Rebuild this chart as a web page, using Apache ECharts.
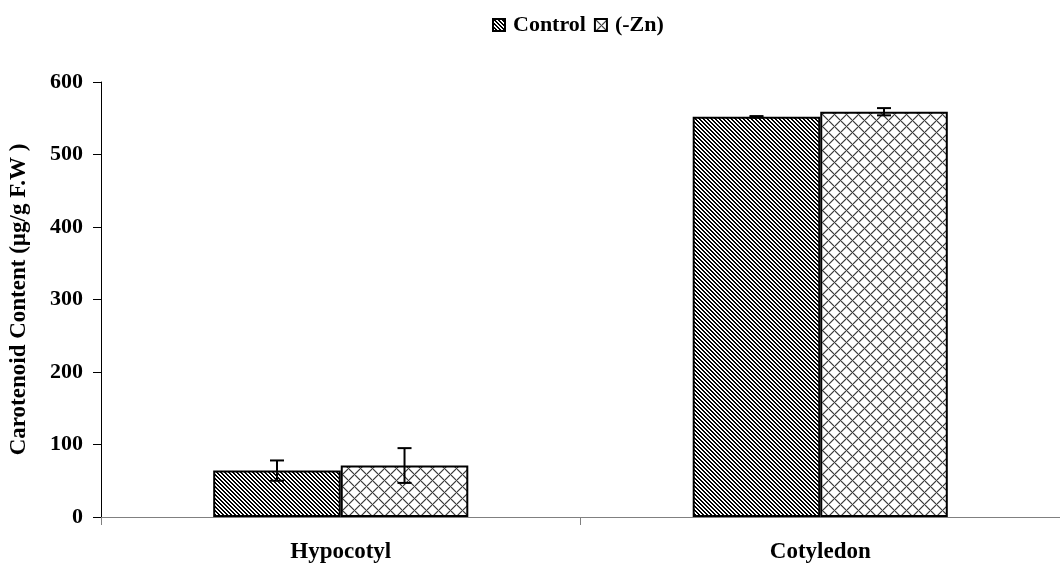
<!DOCTYPE html>
<html><head><meta charset="utf-8">
<script src="https://cdn.jsdelivr.net/npm/echarts@6/dist/echarts.min.js"></script>
<style>html,body{margin:0;padding:0;background:#fff}#c{width:1060px;height:568px}</style>
</head><body><div id="c"></div>
<script>
const categories = ['Hypocotyl', 'Cotyledon'];
const seriesNames = ['Control', '(-Zn)'];
const controlValues = [64, 552];
const controlErrors = [14, 1];
const znValues = [71, 559];
const znErrors = [24, 5];
const yTicks = [0, 100, 200, 300, 400, 500, 600];

function stripePattern() {
  const n = 4, c = document.createElement('canvas');
  c.width = n; c.height = n;
  const ctx = c.getContext('2d');
  const img = ctx.createImageData(n, n);
  for (let y = 0; y < n; y++) for (let x = 0; x < n; x++) {
    const k = ((x - y) % n + n) % n;
    const v = k < 2 ? 0 : 255;
    const i = (y * n + x) * 4;
    img.data[i] = img.data[i+1] = img.data[i+2] = v; img.data[i+3] = 255;
  }
  ctx.putImageData(img, 0, 0);
  return c;
}
function crossPattern() {
  const n = 12, c = document.createElement('canvas');
  c.width = n; c.height = n;
  const ctx = c.getContext('2d');
  const img = ctx.createImageData(n, n);
  for (let y = 0; y < n; y++) for (let x = 0; x < n; x++) {
    const a = ((x - y) % n + n) % n, b = (x + y) % n;
    let v = 255;
    if (a === 0 || b === 0) v = 60;
    else if (a === 1 || b === 1 || a === n-1 || b === n-1) v = 190;
    const i = (y * n + x) * 4;
    img.data[i] = img.data[i+1] = img.data[i+2] = v; img.data[i+3] = 255;
  }
  ctx.putImageData(img, 0, 0);
  return c;
}

const BW = 0.266;
const font = '"Liberation Serif", "Times New Roman", serif';
const chart = echarts.init(document.getElementById('c'));

function errSeries(vals, errs, side) {
  return {
    type: 'custom', silent: true, z: 10,
    data: categories.map((c, i) => [i, vals[i] - errs[i], vals[i] + errs[i]]),
    renderItem: function (params, api) {
      const catW = api.size([1, 0])[0];
      const cx = api.coord([api.value(0), 0])[0] + side * catW * BW / 2;
      const lo = api.coord([api.value(0), api.value(1)])[1];
      const hi = api.coord([api.value(0), api.value(2)])[1];
      const h = 7;
      const st = { stroke: '#000', lineWidth: 2 };
      return { type: 'group', children: [
        { type: 'line', shape: { x1: cx, y1: lo, x2: cx, y2: hi }, style: st },
        { type: 'line', shape: { x1: cx - h, y1: lo, x2: cx + h, y2: lo }, style: st },
        { type: 'line', shape: { x1: cx - h, y1: hi, x2: cx + h, y2: hi }, style: st }
      ]};
    }
  };
}

chart.setOption({
  animation: false,
  legend: {
    top: 9, left: 487, itemWidth: 12, itemHeight: 12, itemGap: 8,
    data: seriesNames.map(n => ({ name: n, icon: 'rect' })),
    textStyle: { fontFamily: font, fontWeight: 'bold', fontSize: 22, color: '#000', padding: [0,0,0,3] }
  },
  grid: { left: 99, right: -1, top: 82, bottom: 51, containLabel: false },
  xAxis: {
    type: 'category', data: categories,
    axisLine: { lineStyle: { color: '#808080', width: 1 } },
    axisTick: { show: true, length: 8, lineStyle: { color: '#808080' } },
    axisLabel: { margin: 24, fontFamily: font, fontWeight: 'bold', fontSize: 23, color: '#000' }
  },
  yAxis: {
    type: 'value', min: 0, max: 600, interval: 100,
    name: 'Carotenoid Content (µg/g F.W )', nameLocation: 'middle', nameGap: 70, nameRotate: 90,
    nameTextStyle: { fontFamily: font, fontWeight: 'bold', fontSize: 23, color: '#000' },
    axisLine: { show: true, lineStyle: { color: '#000', width: 1 } },
    axisTick: { show: true, length: 8, lineStyle: { color: '#000' } },
    splitLine: { show: false },
    axisLabel: { margin: 18, fontFamily: font, fontWeight: 'bold', fontSize: 22, color: '#000',
      formatter: v => yTicks.includes(v) ? String(v) : '' }
  },
  series: [
    { name: seriesNames[0], type: 'bar', data: controlValues, barWidth: (BW*100)+'%', barGap: '0%',
      itemStyle: { color: { image: stripePattern(), repeat: 'repeat' }, borderColor: '#000', borderWidth: 2 } },
    { name: seriesNames[1], type: 'bar', data: znValues, barWidth: (BW*100)+'%', barGap: '0%',
      itemStyle: { color: { image: crossPattern(), repeat: 'repeat' }, borderColor: '#000', borderWidth: 2 } },
    errSeries(controlValues, controlErrors, -1),
    errSeries(znValues, znErrors, 1)
  ]
});
</script></body></html>
